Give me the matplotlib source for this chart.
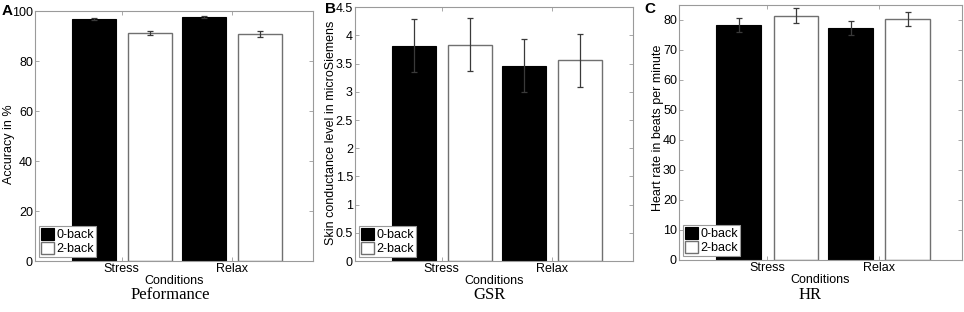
import matplotlib
matplotlib.use("Agg")
import matplotlib.pyplot as plt
import numpy as np
from matplotlib.ticker import FormatStrFormatter

plt.rcParams["font.family"] = ["Liberation Sans", "DejaVu Sans"]
plt.rcParams["font.size"] = 9

# dados
conditions = ["Stress", "Relax"]
series_labels = ["0-back", "2-back"]

acc_0back = [96.9, 97.7]
acc_0back_err = [0.5, 0.3]
acc_2back = [91.2, 90.9]
acc_2back_err = [0.9, 1.2]

gsr_0back = [3.82, 3.46]
gsr_0back_err = [0.47, 0.47]
gsr_2back = [3.835, 3.56]
gsr_2back_err = [0.47, 0.47]

hr_0back = [78.4, 77.3]
hr_0back_err = [2.4, 2.4]
hr_2back = [81.5, 80.3]
hr_2back_err = [2.4, 2.4]

panels = [
    dict(letter="A", title="Peformance", ylabel="Accuracy in %",
         v0=acc_0back, e0=acc_0back_err, v2=acc_2back, e2=acc_2back_err,
         ylim=(0, 100), yticks=np.arange(0, 101, 20),
         rect=[35 / 964, 1 - 261 / 312, 278 / 964, 250 / 312],
         letter_xy=(7, 11), ylabel_xy=(9.5, 144), title_x=170),
    dict(letter="B", title="GSR", ylabel="Skin conductance level in microSiemens",
         v0=gsr_0back, e0=gsr_0back_err, v2=gsr_2back, e2=gsr_2back_err,
         ylim=(0, 4.5), yticks=np.arange(0, 4.51, 0.5),
         rect=[355 / 964, 1 - 261 / 312, 278 / 964, 253.7 / 312],
         letter_xy=(330, 9), ylabel_xy=(331, 132.5), title_x=489),
    dict(letter="C", title="HR", ylabel="Heart rate in beats per minute",
         v0=hr_0back, e0=hr_0back_err, v2=hr_2back, e2=hr_2back_err,
         ylim=(0, 85), yticks=np.arange(0, 81, 10),
         rect=[679 / 964, 1 - 260 / 312, 283 / 964, 255 / 312],
         letter_xy=(650, 9), ylabel_xy=(657.5, 127.5), title_x=810),
]

fig = plt.figure(figsize=(9.64, 3.12), dpi=100)

x = np.arange(1, len(conditions) + 1)
width = 0.4
offset = 0.255
spine_color = "#9a9a9a"
err_kw = dict(ecolor="#3a3a3a", elinewidth=0.9, capsize=2.5, capthick=0.9)

for p in panels:
    ax = fig.add_axes(p["rect"])
    ax.bar(x - offset, p["v0"], width, yerr=p["e0"], color="black",
           edgecolor="black", linewidth=0.8, label=series_labels[0],
           error_kw=err_kw, zorder=2)
    ax.bar(x + offset, p["v2"], width, yerr=p["e2"], color="white",
           edgecolor="#707070", linewidth=1.0, label=series_labels[1],
           error_kw=err_kw, zorder=2)

    ax.set_xlim(0.21, 2.74)
    ax.set_ylim(*p["ylim"])
    ax.set_yticks(p["yticks"])
    ax.yaxis.set_major_formatter(FormatStrFormatter("%g"))
    ax.set_xticks(x)
    ax.set_xticklabels(conditions)
    ax.set_xlabel("Conditions", labelpad=0, fontsize=9)

    for s in ax.spines.values():
        s.set_color(spine_color)
        s.set_linewidth(0.8)
    ax.tick_params(direction="in", length=3, width=0.6, color=spine_color,
                   top=True, right=True, labelsize=9, pad=1.5)

    leg = ax.legend(loc="lower left", handlelength=1.1, handleheight=1.1,
                    handletextpad=0.15, labelspacing=0.1, borderpad=0.15,
                    borderaxespad=0.3, fontsize=9, fancybox=False,
                    framealpha=1, edgecolor=spine_color)
    leg.get_frame().set_linewidth(0.8)

    # rótulo do eixo y posicionado em pixels
    fig.text(p["ylabel_xy"][0] / 964, 1 - p["ylabel_xy"][1] / 312,
             p["ylabel"], rotation=90, ha="center", va="center", fontsize=9)
    fig.text(p["letter_xy"][0] / 964, 1 - p["letter_xy"][1] / 312, p["letter"],
             ha="center", va="center", fontsize=11, fontweight="bold")
    fig.text(p["title_x"] / 964, 1 - 295 / 312, p["title"],
             ha="center", va="center", fontsize=12, family="Liberation Serif")

fig.savefig("out.png", dpi=100)
plt.close(fig)
